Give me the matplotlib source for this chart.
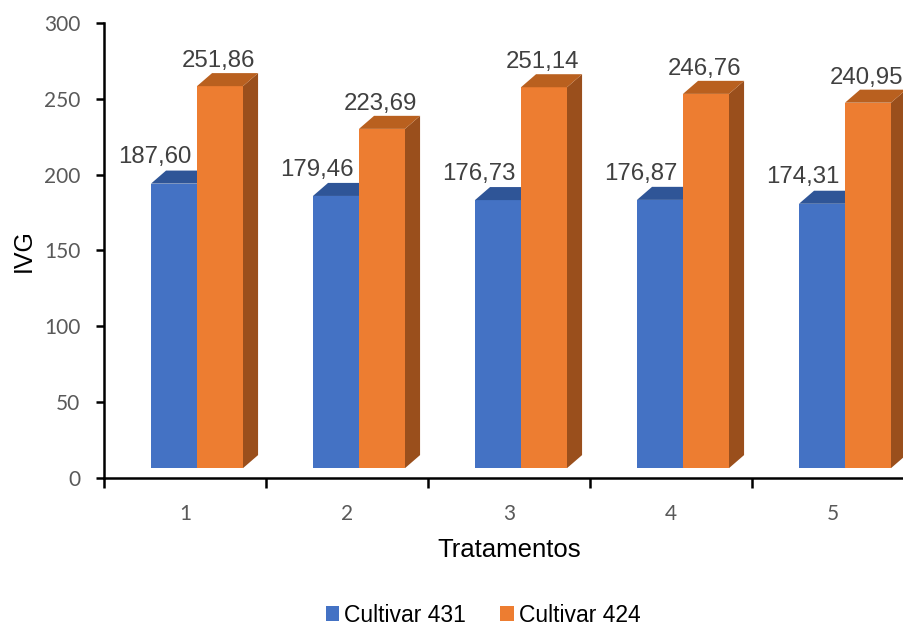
import matplotlib.pyplot as plt
from matplotlib.patches import Polygon, Rectangle, Patch

# IVG por tratamento para as duas cultivares
tratamentos = ['1', '2', '3', '4', '5']
cultivar_431 = [187.60, 179.46, 176.73, 176.87, 174.31]
cultivar_424 = [251.86, 223.69, 251.14, 246.76, 240.95]
series_names = ['Cultivar 431', 'Cultivar 424']
y_ticks = [0, 50, 100, 150, 200, 250, 300]

# face colours: front, top, side
blue = ('#4472C4', '#2F5597', '#2B4F8C')
orange = ('#ED7D31', '#B9601F', '#9A4F1C')

plt.rcParams['font.family'] = ['Liberation Sans', 'DejaVu Sans']

fig = plt.figure(figsize=(9.04, 6.28), dpi=100)
W, H = 904, 628
ax = fig.add_axes([104 / W, (H - 478) / H, 810 / W, 455 / H])
ax.set_xlim(-0.5, 4.5)
ax.set_ylim(0, 300)

base = 6.5      # floor of the 3D bars
shift = 0.074   # perspective shift of the pair
bw = 0.284      # bar width
dx, dy = 0.093, 8.6   # depth of the bars


def bar3d(x0, v, cols):
    y0, y1 = base, base + v
    ax.add_patch(Rectangle((x0, y0), bw, v, facecolor=cols[0], edgecolor='none', zorder=3))
    ax.add_patch(Polygon([(x0, y1), (x0 + dx, y1 + dy), (x0 + bw + dx, y1 + dy), (x0 + bw, y1)],
                         closed=True, facecolor=cols[1], edgecolor='none', zorder=3))
    ax.add_patch(Polygon([(x0 + bw, y0), (x0 + bw + dx, y0 + dy), (x0 + bw + dx, y1 + dy), (x0 + bw, y1)],
                         closed=True, facecolor=cols[2], edgecolor='none', zorder=2.9))


def fmt(v):
    return f'{v:.2f}'.replace('.', ',')


for i, (a, b) in enumerate(zip(cultivar_431, cultivar_424)):
    xa = i + shift - bw
    xb = i + shift
    bar3d(xa, a, blue)
    bar3d(xb, b, orange)
    ax.text(xa + bw / 2 - 0.12, base + a + dy + 1.5, fmt(a), ha='center', va='bottom',
            fontsize=17.3, color='#404040', zorder=5)
    ax.text(xb + bw / 2 - 0.01, base + b + dy + 0.5, fmt(b), ha='center', va='bottom',
            fontsize=17.3, color='#404040', zorder=5)

for s in ['top', 'right']:
    ax.spines[s].set_visible(False)
for s in ['left', 'bottom']:
    ax.spines[s].set_linewidth(1.8)
    ax.spines[s].set_color('black')

ax.set_yticks(y_ticks)
ax.set_yticklabels([str(t) for t in y_ticks], family=['Lato', 'DejaVu Sans'],
                   fontsize=15, color='#595959')
ax.set_xticks(range(len(tratamentos)))
ax.set_xticklabels(tratamentos, family=['Lato', 'DejaVu Sans'], fontsize=15, color='#595959')
ax.set_xticks([i - 0.5 for i in range(len(tratamentos) + 1)], minor=True)
ax.tick_params(axis='x', which='major', length=0, pad=19)
ax.tick_params(axis='x', which='minor', length=7, width=1.8, direction='out')
ax.tick_params(axis='y', length=6, width=1.8, direction='out', pad=11)

ax.set_xlabel('Tratamentos', fontsize=18.5, labelpad=10)
ax.set_ylabel('IVG', fontsize=18, labelpad=6)

handles = [Patch(facecolor=blue[0]), Patch(facecolor=orange[0])]
fig.legend(handles, series_names, loc='center', bbox_to_anchor=(483 / W, 1 - 615 / H),
           ncol=2, frameon=False, fontsize=16.5, handlelength=0.6, handleheight=0.6,
           handletextpad=0.2, columnspacing=1.5, borderpad=0.2)

fig.savefig('out.png', dpi=100)
